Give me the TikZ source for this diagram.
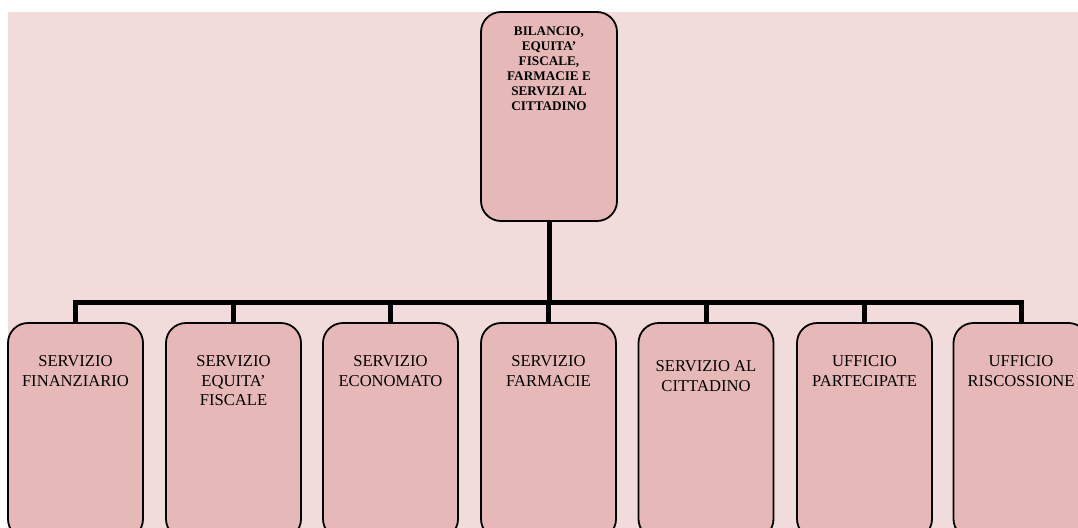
\documentclass[tikz,border=0pt]{standalone}
\usepackage{fontspec}
\setmainfont{Liberation Serif}
\definecolor{bgpink}{HTML}{F2DCDB}
\definecolor{boxpink}{HTML}{E6B8B7}
\begin{document}
\begin{tikzpicture}[x=1pt,y=-1pt,
  unitbox/.style={draw=black,line width=1.8pt,fill=boxpink,rounded corners=20pt,inner sep=0pt,outer sep=0pt},
  conn/.style={line width=5pt,line join=miter,draw=black}]
\useasboundingbox (0,0) rectangle (1078,527);
\clip (0,0) rectangle (1078,527);
\fill[bgpink] (8,12) rectangle (1080,530);
% top box
\node[unitbox] (top) at (549,116.5) {\parbox[c][209pt][t]{136pt}{\centering\vspace*{14.5pt}%
  \fontsize{13.2pt}{15pt}\selectfont\bfseries BILANCIO,\\ EQUITA'\\ FISCALE,\\ FARMACIE E\\ SERVIZI AL\\ CITTADINO\par}};
\newcommand{\childbox}[4]{%
  \node[unitbox] (#1) at (#2,431) {\parbox[c][216pt][t]{135pt}{\centering\vspace*{#3}%
  \fontsize{16.6pt}{19.5pt}\selectfont #4\par}};}
\childbox{c1}{75.5}{33pt}{SERVIZIO\\ FINANZIARIO}
\childbox{c2}{233.5}{33pt}{SERVIZIO\\ EQUITA'\\ FISCALE}
\childbox{c3}{390.5}{33pt}{SERVIZIO\\ ECONOMATO}
\childbox{c4}{548.5}{33pt}{SERVIZIO\\ FARMACIE}
\childbox{c5}{706}{38pt}{SERVIZIO AL\\ CITTADINO}
\childbox{c6}{864.5}{33pt}{UFFICIO\\ PARTECIPATE}
\childbox{c7}{1021}{33pt}{UFFICIO\\ RISCOSSIONE}
\coordinate (bar) at (549,302.5);
\foreach \c in {c1,c2,c3,c4,c5,c6,c7}{
  \draw[conn] (top.south) -- (top.south |- bar) -| (\c.north);
}
\end{tikzpicture}
\end{document}
